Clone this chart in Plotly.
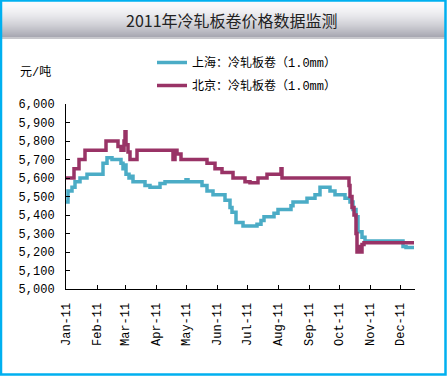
import plotly.graph_objects as go

# ---- data ----
sh_dates = ["2011-01-01","2011-01-03","2011-01-07","2011-01-10","2011-01-15","2011-01-22",
            "2011-02-07","2011-02-11","2011-02-16","2011-02-25","2011-02-27","2011-03-01",
            "2011-03-02","2011-03-05","2011-03-07","2011-03-09","2011-03-21","2011-03-26",
            "2011-04-05","2011-04-10","2011-05-01","2011-05-03","2011-05-17","2011-05-22",
            "2011-05-28","2011-06-09","2011-06-14","2011-06-16","2011-06-20","2011-06-27",
            "2011-07-11","2011-07-15","2011-07-18","2011-07-28","2011-08-01","2011-08-14",
            "2011-08-16","2011-08-30","2011-09-07","2011-09-12","2011-09-22","2011-09-27",
            "2011-10-07","2011-10-12","2011-10-15","2011-10-18","2011-10-20","2011-10-24",
            "2011-10-27","2011-12-04","2011-12-07","2011-12-15"]
sh_values = [5470,5530,5550,5580,5600,5620,
             5680,5710,5700,5680,5650,5670,
             5620,5600,5610,5580,5560,5550,
             5570,5580,5590,5580,5560,5530,
             5510,5480,5440,5415,5360,5340,
             5350,5370,5390,5410,5430,5450,
             5470,5490,5510,5550,5530,5510,
             5490,5470,5430,5390,5310,5280,
             5260,5230,5225,5225]

bj_dates = ["2011-01-01","2011-01-09","2011-01-14","2011-01-20","2011-02-10","2011-02-22",
            "2011-02-25","2011-02-28","2011-03-01","2011-03-02","2011-03-04","2011-03-06",
            "2011-03-13","2011-04-18","2011-04-20","2011-04-22","2011-04-26","2011-05-22",
            "2011-05-30","2011-06-06","2011-06-17","2011-06-29","2011-07-04","2011-07-12",
            "2011-07-21","2011-08-04","2011-08-05","2011-10-10","2011-10-11","2011-10-12",
            "2011-10-14","2011-10-16","2011-10-18","2011-10-19","2011-10-21","2011-10-23",
            "2011-10-24","2011-10-26","2011-12-15"]
bj_values = [5600,5650,5700,5750,5800,5770,
             5750,5800,5850,5780,5740,5700,
             5750,5700,5750,5730,5700,5680,
             5650,5630,5600,5580,5575,5600,
             5620,5650,5600,5600,5560,5500,
             5440,5400,5300,5200,5230,5200,
             5240,5250,5250]

names = ["上海：冷轧板卷（1.0mm）", "北京：冷轧板卷（1.0mm）"]
colors = ["#4BACC6", "#993366"]
title_text = "2011年冷轧板卷价格数据监测"
unit_text = "元/吨"

W, H = 448, 379
L, R, T, B = 66, 33, 104, 90
pw, ph = W - L - R, H - T - B

def px(x):
    return (x - L) / pw

def py(y):
    return (H - B - y) / ph

FONT = "Liberation Mono, Noto Sans CJK SC, monospace"

fig = go.Figure()
fig.add_trace(go.Scatter(x=sh_dates, y=sh_values, mode="lines", name=names[0],
                         line=dict(color=colors[0], width=3.5, shape="hv"),
                         legendgroup="a"))
fig.add_trace(go.Scatter(x=bj_dates, y=bj_values, mode="lines", name=names[1],
                         line=dict(color=colors[1], width=3.5, shape="hv"),
                         legendgroup="b"))

shapes = []
# title gradient band
top_c = (250, 250, 252)
bot_c = (168, 168, 178)
y_start, y_end = 2, 37
n = y_end - y_start
for i in range(n):
    t = i / (n - 1)
    t2 = t ** 1.6
    c = tuple(int(top_c[k] + (bot_c[k] - top_c[k]) * t2) for k in range(3))
    shapes.append(dict(type="rect", xref="paper", yref="paper",
                       x0=px(2), x1=px(445), y0=py(y_start + i + 1), y1=py(y_start + i),
                       line=dict(width=0), fillcolor="rgb(%d,%d,%d)" % c, layer="below"))
shapes.append(dict(type="line", xref="paper", yref="paper",
                   x0=px(2), x1=px(445), y0=py(38), y1=py(38),
                   line=dict(color="#8f8f99", width=1)))
# outer border
shapes.append(dict(type="rect", xref="paper", yref="paper",
                   x0=px(1), x1=px(445.5), y0=py(374.5), y1=py(0.5),
                   line=dict(color="#00B0F0", width=2.5)))

fig.update_layout(
    width=W, height=H,
    margin=dict(l=L, r=R, t=T, b=B, pad=0),
    paper_bgcolor="white", plot_bgcolor="white",
    font=dict(family=FONT, size=12, color="black"),
    showlegend=True,
    legend=dict(x=px(152), y=py(48), xanchor="left", yanchor="top",
                bgcolor="rgba(0,0,0,0)", font=dict(size=12, family=FONT),
                tracegroupgap=4, itemwidth=30),
    shapes=shapes,
    annotations=[
        dict(text=title_text, xref="paper", yref="paper", x=px(232), y=py(20),
             xanchor="center", yanchor="middle", showarrow=False,
             font=dict(size=16, color="#222222", family="Noto Sans CJK SC")),
        dict(text=unit_text, xref="paper", yref="paper", x=px(18), y=py(72),
             xanchor="left", yanchor="middle", showarrow=False,
             font=dict(size=12, color="black", family=FONT)),
    ],
    xaxis=dict(type="date", range=["2011-01-01", "2011-12-16"],
               tick0="2011-01-01", dtick="M1", tickformat="%b-%y",
               tickangle=-90, ticks="inside", ticklen=4, tickcolor="black",
               showline=True, linecolor="black", linewidth=1,
               showgrid=False, zeroline=False, ticklabelstandoff=8,
               tickfont=dict(size=12, family=FONT)),
    yaxis=dict(range=[5000, 6000], dtick=100, tickformat=",d",
               ticks="inside", ticklen=4, tickcolor="black",
               showline=True, linecolor="black", linewidth=1,
               showgrid=False, zeroline=False, ticklabelstandoff=8,
               tickfont=dict(size=12, family=FONT)),
)

fig.write_html("out.html",
               config={"displayModeBar": False},
               post_script="document.body.style.margin='0';document.body.style.overflow='hidden';")
